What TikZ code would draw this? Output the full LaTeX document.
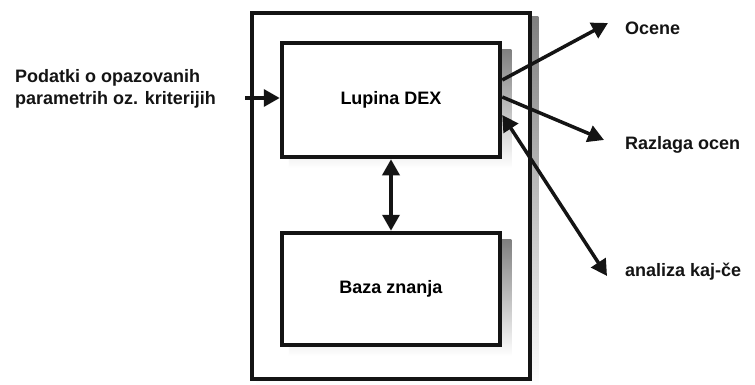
\documentclass[tikz,border=0pt]{standalone}
\usepackage{fontspec}
\setmainfont{Liberation Sans}
\usetikzlibrary{arrows.meta,backgrounds,calc}
\definecolor{ink}{HTML}{141414}
\definecolor{shade}{HTML}{8A8A8A}
\begin{document}
\begin{tikzpicture}[x=1pt,y=-1pt,
  font=\fontsize{18}{22}\selectfont\bfseries,
  box/.style={draw=ink,line width=4.5pt,fill=white,rectangle},
  frame/.style={draw=ink,line width=4.5pt,rectangle},
  lbl/.style={anchor=west,text=ink,inner sep=0pt},
  head/.tip={Triangle[length=16pt,width=17pt]},
  tip/.style={-head},
  both/.style={head-head},
  link/.style={draw=ink,line width=3.5pt}]
\useasboundingbox (0,0) rectangle (755,385);
% outer frame
\node[frame,minimum width=278pt,minimum height=366pt] (sys) at (391,196) {};
% inner components
\node[box,minimum width=218pt,minimum height=114pt] (lup) at (391,100) {Lupina DEX};
\node[box,minimum width=218pt,minimum height=112pt] (baza) at (391,289) {Baza znanja};
% drop shadows
\begin{scope}[on background layer]
  \fill[shade] ([shift={(6,6)}]sys.north west) rectangle ([shift={(6,6)}]sys.south east);
  \fill[white] (sys.north west) rectangle (sys.south east);
  \fill[shade] ([shift={(9,9)}]lup.north west) rectangle ([shift={(9,9)}]lup.south east);
  \fill[shade] ([shift={(9,9)}]baza.north west) rectangle ([shift={(9,9)}]baza.south east);
\end{scope}
% input
\node[lbl,align=left] (inp) at (15,89) {Podatki o opazovanih\\parametrih oz. kriterijih};
\coordinate (inpc) at (245,98);
\draw[link,tip] (inpc) -- (lup.west |- inpc);
% shell <-> knowledge base
\draw[link,both] (lup.south) -- (baza.north);
% outputs
\coordinate (o1) at (608,23);
\coordinate (o2) at (604,140);
\coordinate (o3) at (607,276);
\draw[link,tip] ([yshift=20pt]lup.east) -- (o1);
\draw[link,tip] ([yshift=3pt]lup.east) -- (o2);
\draw[link,both] ([yshift=-15pt]lup.east) -- (o3);
\node[lbl] (t1) at (625,28) {Ocene};
\node[lbl] (t2) at (625,145) {Razlaga ocen};
\node[lbl] (t3) at (625,272) {analiza kaj-če};
\end{tikzpicture}
\end{document}
